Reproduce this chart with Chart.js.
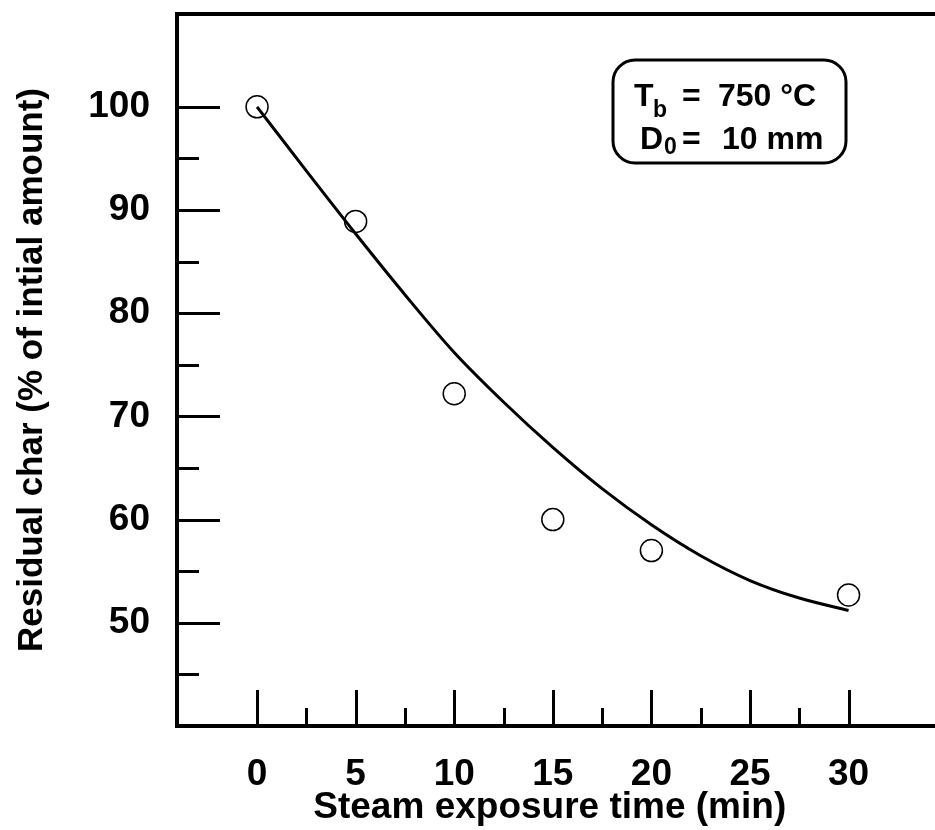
<!DOCTYPE html>
<html>
<head>
<meta charset="utf-8">
<script src="https://cdn.jsdelivr.net/npm/chart.js@4.4.0/dist/chart.umd.min.js"></script>
<style>
    body { margin: 0; background: #ffffff; }
    #wrap { width: 935px; height: 830px; }
</style>
</head>
<body>
<div id="wrap"><canvas id="charChart" width="935" height="830"></canvas></div>
<script>
// Measured points (steam exposure time in min, residual char in %)
const timeMin = [0, 5, 10, 15, 20, 30];
const residualChar = [100, 88.9, 72.2, 60.0, 57.0, 52.7];

// Fitted curve
const curveTime = [0, 2.5, 5, 7.5, 10, 12.5, 15, 17.5, 20, 22.5, 25, 27.5, 30];
const curveChar = [100, 93.8, 87.7, 81.8, 76.2, 71.4, 67.0, 63.0, 59.5, 56.5, 54.1, 52.4, 51.2];

// Axis ticks
const xMajorTicks = [0, 5, 10, 15, 20, 25, 30];
const xMinorTicks = [2.5, 7.5, 12.5, 17.5, 22.5, 27.5];
const yMajorTicks = [50, 60, 70, 80, 90, 100];
const yMinorTicks = [45, 55, 65, 75, 85, 95];

const FONT = 'Arial, "Liberation Sans", sans-serif';

// Draws the inward tick marks, the frame lines and the label box
const frameAndTicks = {
    id: 'frameAndTicks',
    afterDraw(chart) {
        const ctx = chart.ctx;
        const area = chart.chartArea;
        const xs = chart.scales.x;
        const ys = chart.scales.y;
        ctx.save();
        ctx.strokeStyle = '#000';
        ctx.lineWidth = 3;
        ctx.lineCap = 'butt';

        // x ticks point up from the bottom axis
        const drawX = (vals, len) => vals.forEach(v => {
            const px = Math.round(xs.getPixelForValue(v)) + 0.5;
            ctx.beginPath();
            ctx.moveTo(px, area.bottom);
            ctx.lineTo(px, area.bottom - len);
            ctx.stroke();
        });
        drawX(xMajorTicks, 36);
        drawX(xMinorTicks, 18);

        // y ticks point right from the left axis
        const drawY = (vals, len) => vals.forEach(v => {
            const py = Math.round(ys.getPixelForValue(v)) + 0.5;
            ctx.beginPath();
            ctx.moveTo(area.left, py);
            ctx.lineTo(area.left + len, py);
            ctx.stroke();
        });
        drawY(yMajorTicks, 43);
        drawY(yMinorTicks, 22);

        // top frame line, and the bottom axis carried to the edge
        ctx.lineWidth = 4;
        ctx.beginPath();
        ctx.moveTo(area.left - 2, area.top);
        ctx.lineTo(chart.width, area.top);
        ctx.moveTo(area.right - 2, area.bottom);
        ctx.lineTo(chart.width, area.bottom);
        ctx.stroke();

        // label box
        const bx = 613, by = 60, bw = 233, bh = 103, r = 22;
        ctx.lineWidth = 3;
        ctx.beginPath();
        ctx.roundRect(bx, by, bw, bh, r);
        ctx.stroke();

        ctx.fillStyle = '#000';
        ctx.textBaseline = 'alphabetic';
        ctx.textAlign = 'left';
        ctx.font = 'bold 32px ' + FONT;
        ctx.fillText('T', 634, 106);
        ctx.fillText('=', 682, 106);
        ctx.fillText('750 \u00B0C', 718, 106);
        ctx.fillText('D', 640, 149);
        ctx.fillText('=', 682, 149);
        ctx.fillText('10 mm', 722, 149);
        ctx.font = 'bold 23px ' + FONT;
        ctx.fillText('b', 653, 117);
        ctx.fillText('0', 664, 154);
        ctx.restore();
    }
};

const ctx = document.getElementById('charChart').getContext('2d');
const charChart = new Chart(ctx, {
    type: 'scatter',
    data: {
        datasets: [
            {
                label: 'Fit',
                data: curveTime.map((t, i) => ({ x: t, y: curveChar[i] })),
                showLine: true,
                borderColor: '#000',
                borderWidth: 3,
                pointRadius: 0,
                cubicInterpolationMode: 'monotone',
                fill: false
            },
            {
                label: 'Measured',
                data: timeMin.map((t, i) => ({ x: t, y: residualChar[i] })),
                showLine: false,
                pointStyle: 'circle',
                pointRadius: 11,
                pointBorderWidth: 1.5,
                pointBorderColor: '#000',
                pointBackgroundColor: 'rgba(0,0,0,0)'
            }
        ]
    },
    options: {
        responsive: false,
        animation: false,
        layout: {
            padding: { top: 14, right: 0, left: 0, bottom: 0 }
        },
        plugins: {
            legend: { display: false },
            tooltip: { enabled: false }
        },
        scales: {
            x: {
                type: 'linear',
                min: -4.06,
                max: 33.75,
                afterBuildTicks: s => { s.ticks = xMajorTicks.map(v => ({ value: v })); },
                afterFit: s => {
                    s.height = 104;
                    s.paddingLeft = 0;
                    s.paddingRight = 0;
                },
                grid: { display: false, drawTicks: false },
                border: { display: true, color: '#000', width: 4 },
                ticks: {
                    color: '#000',
                    padding: 27,
                    maxRotation: 0,
                    font: { family: FONT, size: 37, weight: 'bold' }
                },
                title: {
                    display: true,
                    text: 'Steam exposure time (min)',
                    color: '#000',
                    padding: { top: 0, bottom: 0 },
                    font: { family: FONT, size: 37, weight: 'bold', lineHeight: 1.2 }
                }
            },
            y: {
                type: 'linear',
                min: 40,
                max: 109,
                afterBuildTicks: s => { s.ticks = yMajorTicks.map(v => ({ value: v })); },
                afterFit: s => {
                    s.width = 177;
                    s.paddingTop = 0;
                    s.paddingBottom = 0;
                },
                grid: { display: false, drawTicks: false },
                border: { display: true, color: '#000', width: 4 },
                ticks: {
                    color: '#000',
                    padding: 27,
                    font: { family: FONT, size: 37, weight: 'bold' }
                },
                title: {
                    display: true,
                    text: 'Residual char (% of intial amount)',
                    color: '#000',
                    padding: { top: 11, bottom: 0 },
                    font: { family: FONT, size: 35, weight: 'bold', lineHeight: 1.2 }
                }
            }
        }
    },
    plugins: [frameAndTicks]
});
</script>
</body>
</html>
